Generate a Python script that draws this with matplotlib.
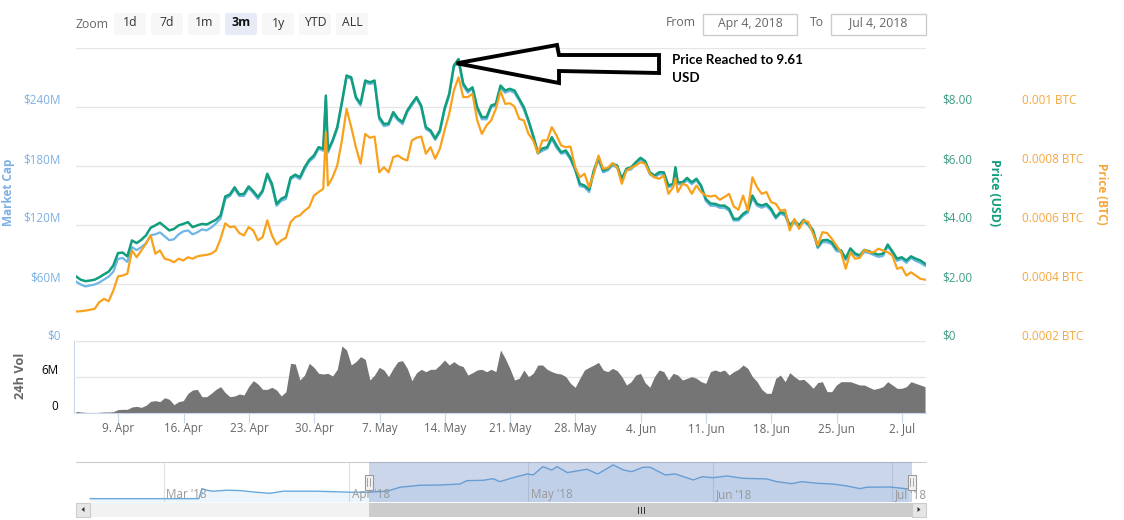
import numpy as np
import pandas as pd
import matplotlib
matplotlib.use("Agg")
import matplotlib.pyplot as plt
import matplotlib.dates as mdates
from matplotlib.patches import Polygon, Rectangle, FancyBboxPatch
from matplotlib.transforms import ScaledTranslation

# ---------- data ----------
start_time = "2018-04-04 11:17"
spike_times = ["2018-05-01 06:00", "2018-06-07 17:15"]

price_usd = [
    2.24,2.13,2.08,2.10,2.13,2.21,2.31,2.40,2.61,3.03,
    3.05,2.92,3.46,3.37,3.48,3.63,3.89,3.97,4.06,3.93,
    3.80,3.85,3.97,4.02,4.08,3.91,3.97,4.02,4.00,4.08,
    4.16,4.31,4.95,5.02,5.26,5.02,5.04,5.29,5.13,4.93,
    5.15,5.72,5.38,4.70,4.87,4.95,5.59,5.69,5.60,5.94,
    6.19,6.34,6.62,6.57,8.37,6.51,6.85,7.30,8.15,9.05,8.99,
    8.32,8.10,8.88,8.82,8.88,7.64,7.41,7.42,7.81,7.59,
    7.47,7.86,8.10,8.32,8.03,7.30,7.19,6.92,7.19,7.93,
    8.43,9.39,9.61,8.78,8.54,8.65,7.98,7.64,7.64,8.03,
    8.09,8.71,8.54,8.60,8.54,8.26,7.98,7.53,7.02,6.45,
    6.58,6.62,6.96,6.68,6.45,6.51,6.26,5.89,5.38,5.32,
    5.18,5.83,6.26,5.83,5.89,6.06,6.00,5.55,5.89,5.94,
    6.11,6.26,6.15,5.77,5.66,5.77,5.77,5.32,5.38,5.94,5.43,
    5.43,5.58,5.43,5.55,5.32,4.87,4.71,4.70,4.64,4.64,
    4.53,4.19,4.19,4.36,4.47,4.98,4.70,4.64,4.70,4.53,
    4.25,4.42,4.38,3.97,4.14,3.97,4.16,4.02,3.80,3.25,
    3.46,3.48,3.40,3.18,3.12,2.85,3.19,3.02,2.95,3.14,
    3.09,3.03,2.98,3.01,3.32,3.09,2.84,2.89,2.78,2.92,
    2.84,2.78,2.67,
]
price_btc_micro = [
    305,306,308,311,314,337,348,340,376,424,
    427,433,512,489,512,535,563,501,512,484,
    480,472,484,478,489,484,492,495,497,501,
    512,552,604,591,593,571,563,591,580,546,
    557,614,563,532,546,555,608,625,631,647,
    659,698,710,721,913,732,760,800,885,992,930,
    862,806,907,894,898,777,794,777,828,834,
    823,817,885,894,898,840,862,823,857,919,
    975,1054,1099,1032,1032,1043,953,907,936,953,
    992,1052,1009,1011,1000,958,953,907,885,842,
    885,885,930,902,868,862,864,794,760,772,
    726,772,834,789,792,808,794,738,783,792,
    800,811,806,772,760,755,766,704,726,756,710,
    738,732,704,732,710,698,695,698,684,693,
    704,661,650,698,647,760,726,704,710,676,
    670,647,650,580,619,585,614,608,568,529,
    574,571,552,529,506,450,506,484,487,514,
    506,506,518,512,506,495,450,455,427,438,
    427,416,413,
]
market_cap_m = [
    62,59,57,58,59,61,64,67,72,85,
    86,82,97,94,97,101,109,110,112,108,
    104,105,110,113,114,110,112,115,114,117,
    121,126,146,149,156,149,149,157,152,146,
    153,170,159,139,144,146,166,169,166,176,
    184,188,197,195,249,193,204,217,243,270,268,
    248,241,264,263,264,227,220,221,232,226,
    222,234,241,248,239,217,214,206,214,236,
    251,280,286,261,254,258,237,227,227,239,
    241,259,254,256,254,246,237,224,209,192,
    195,197,207,198,192,193,186,175,159,158,
    153,173,186,173,175,180,178,165,175,176,
    181,186,183,171,168,171,171,158,159,176,161,
    161,165,161,165,158,144,139,139,137,137,
    134,124,124,129,132,147,139,137,139,134,
    126,131,129,117,122,117,123,119,112,96,
    102,102,100,93,92,84,94,89,87,92,
    91,89,87,88,98,91,83,85,81,86,
    83,81,78,
]
volume_m = [
    .28,.17,.11,.06,.06,.11,.17,.17,.22,.56,
    .61,.61,1.0,1.11,.94,1.28,1.94,2.06,1.89,2.56,
    2.28,1.39,1.89,2.06,3.28,3.83,3.94,2.72,2.72,3.28,
    3.94,4.39,3.39,2.72,2.83,3.17,3.0,4.39,5.39,4.83,
    3.94,3.94,4.28,3.83,2.83,3.56,8.28,8.17,5.5,6.33,
    8.28,7.61,6.61,6.5,6.61,6.17,7.28,11.17,10.5,8.0,
    8.56,9.39,8.94,5.5,6.33,7.61,7.17,6.06,7.44,8.56,
    8.72,7.44,5.39,6.72,7.28,6.89,7.28,7.28,8.0,8.83,
    8.0,8.56,8.0,7.72,6.33,6.72,7.17,7.28,6.89,7.28,
    6.89,10.5,9.11,7.44,5.5,5.78,7.17,6.06,6.61,8.0,
    8.0,7.28,6.89,6.61,6.5,6.06,4.94,4.28,5.78,7.17,
    7.61,8.0,8.44,7.17,6.89,7.44,7.06,6.06,4.67,5.22,
    6.33,6.61,5.06,4.28,6.06,7.17,6.89,5.5,6.61,6.33,
    5.5,5.78,6.06,5.78,5.22,4.94,6.89,7.17,6.89,7.17,
    6.33,6.89,7.28,8.0,7.44,6.06,5.22,3.94,3.28,3.28,
    5.78,6.33,5.22,6.72,6.06,5.5,5.61,4.94,4.11,5.06,
    5.22,3.56,3.56,4.67,5.22,5.22,5.22,4.94,4.67,4.67,
    4.28,3.94,4.11,4.39,5.22,4.67,4.11,4.11,4.39,5.22,
    4.94,4.67,4.39,
]
# navigator: overview of market cap, days counted from 1 Mar 2018
nav_days = [-12.3,5.9,6.4,7.2,8.3,10.6,12.8,15.0,17.8,20.0,22.8,25.6,28.4,31.2,34.1,37.4,
            39.6,42.9,46.3,49.6,50.8,53.5,55.2,56.3,58.5,60.9,61.9,63.5,65.0,65.9,67.6,
            69.2,70.9,72.7,75.3,77,78.4,80.3,81.5,84,85.7,88.7,90.2,92,94.4,97,101,102.7,
            105.2,106.9,109.4,112.1,114.5,116.6,117.8,121.6,124.7]
nav_cap_m = [0,0,81,68,60,68,65,54,43,60,60,60,56,52,52,60,
             92,108,110,118,145,148,161,137,169,199,191,258,231,258,210,
             223,237,199,272,231,218,253,253,191,199,151,177,169,183,164,159,137,
             121,137,124,118,102,81,92,94,78]

week_ticks = ["2018-04-09","2018-04-16","2018-04-23","2018-04-30","2018-05-07","2018-05-14",
              "2018-05-21","2018-05-28","2018-06-04","2018-06-11","2018-06-18","2018-06-25","2018-07-02"]
week_labels = ["9. Apr","16. Apr","23. Apr","30. Apr","7. May","14. May","21. May",
               "28. May","4. Jun","11. Jun","18. Jun","25. Jun","2. Jul"]
cap_ticks = [0,60,120,180,240,300]
cap_labels = ["$0","$60M","$120M","$180M","$240M",""]
usd_ticks = [0,2,4,6,8,10]
usd_labels = ["$0","$2.00","$4.00","$6.00","$8.00",""]
btc_ticks = [0.0002,0.0004,0.0006,0.0008,0.001,0.0012]
btc_labels = ["0.0002 BTC","0.0004 BTC","0.0006 BTC","0.0008 BTC","0.001 BTC",""]
vol_ticks = [0,6,12]
vol_labels = ["0","6M",""]
month_ticks = ["2018-03-01","2018-04-01","2018-05-01","2018-06-01","2018-07-01"]
month_labels = ["Mar '18","Apr '18","May '18","Jun '18","Jul '18"]
select_from, select_to = "2018-04-04 09:00", "2018-07-04 10:00"
zoom_buttons = ["1d","7d","1m","3m","1y","YTD","ALL"]

# ---------- style ----------
W, H = 1124, 520
GREEN, ORANGE, BLUE = "#109e7d", "#f9a11b", "#6db6e6"
BLUE_TXT, ORANGE_TXT, GREEN_TXT = "#7cb0e4", "#f7a63c", "#3d9c84"
GRAY = "#666666"
FONT = "Open Sans"
plt.rcParams["font.family"] = [FONT, "DejaVu Sans"]
plt.rcParams["font.size"] = 8.4

fig = plt.figure(figsize=(W/100, H/100), dpi=100, facecolor="white")

def box(x0, y_top, x1, y_bot):
    return [x0/W, 1-y_bot/H, (x1-x0)/W, (y_bot-y_top)/H]

def lift(labels, px):
    for lab in labels:
        lab.set_transform(lab.get_transform() + ScaledTranslation(0, px/100, fig.dpi_scale_trans))

times = pd.date_range(start_time, periods=183, freq="12h")
main_times = times.append(pd.DatetimeIndex(spike_times)).sort_values()
x_main = mdates.date2num(main_times)
x_vol = mdates.date2num(times)
x0 = mdates.date2num(pd.Timestamp(start_time))
xlim = (x0, x0 + 850/9.33)

# ---------- main panel ----------
ax_cap = fig.add_axes(box(76, 47.5, 926, 342.5))
ax_usd = ax_cap.twinx()
ax_btc = ax_cap.twinx()
ax_cap.plot(x_main, market_cap_m, color=BLUE, lw=1.6, solid_joinstyle="round")
ax_usd.plot(x_main, price_usd, color=GREEN, lw=1.8, solid_joinstyle="round")
ax_btc.plot(x_main, np.array(price_btc_micro)*1e-6, color=ORANGE, lw=1.6, solid_joinstyle="round")

ax_cap.set_xlim(xlim)
ax_cap.set_ylim(0, 300)
ax_usd.set_ylim(0, 10)
ax_btc.set_ylim(0.0002, 0.0012)
ax_cap.set_xticks([])

ax_cap.set_yticks(cap_ticks, cap_labels, color=BLUE_TXT)
ax_usd.set_yticks(usd_ticks, usd_labels, color=GREEN_TXT)
ax_btc.set_yticks(btc_ticks, btc_labels, color=ORANGE_TXT)
ax_cap.grid(axis="y", color="#e6e6e6", lw=1)
ax_cap.set_axisbelow(True)
ax_cap.tick_params(axis="y", length=0, pad=11)
ax_usd.tick_params(axis="y", length=0, pad=11.5)
ax_btc.tick_params(axis="y", length=0, pad=69)
lift([t.label1 for t in ax_cap.yaxis.get_major_ticks()], 7.5)
lift([t.label2 for t in ax_usd.yaxis.get_major_ticks()], 7.5)
lift([t.label2 for t in ax_btc.yaxis.get_major_ticks()], 7.5)
for a in (ax_cap, ax_usd, ax_btc):
    a.patch.set_visible(False)
    for s in a.spines.values():
        s.set_visible(False)

ax_cap.set_ylabel("Market Cap", color=BLUE_TXT, fontweight="bold", fontsize=8.5, va="center")
ax_cap.yaxis.set_label_coords((9-76)/850, (342.5-192)/295)
ax_usd.set_ylabel("Price (USD)", color=GREEN, fontweight="bold", fontsize=8.8, rotation=270, va="center")
ax_usd.yaxis.set_label_coords((995-76)/850, (342.5-193)/295)
ax_btc.set_ylabel("Price (BTC)", color=ORANGE_TXT, fontweight="bold", fontsize=8.5, rotation=270, va="center")
ax_btc.yaxis.set_label_coords((1101-76)/850, (342.5-194)/295)

# ---------- volume panel ----------
ax_vol = fig.add_axes(box(76, 341, 926, 413))
ax_vol.fill_between(x_vol, volume_m, color="#757575", lw=0)
ax_vol.set_xlim(xlim)
ax_vol.set_ylim(0, 12)
ax_vol.set_yticks(vol_ticks, vol_labels, color=GRAY)
ax_vol.set_xticks(mdates.date2num(pd.to_datetime(week_ticks)), week_labels, color=GRAY)
for k in ("top", "right"):
    ax_vol.spines[k].set_visible(False)
ax_vol.spines["bottom"].set_color("#ccd6eb")
ax_vol.spines["left"].set_color("#ccd6eb")
ax_vol.spines["left"].set_position(("outward", 1.8))
ax_vol.tick_params(axis="y", length=0, pad=11)
ax_vol.tick_params(axis="x", length=7.5, width=0.8, color="#ccd6eb", pad=-1.1)
ax_vol.grid(axis="y", color="#e6e6e6", lw=1)
ax_vol.set_axisbelow(True)
lift([t.label1 for t in ax_vol.yaxis.get_major_ticks()], 7.5)
ax_vol.set_ylabel("24h Vol", color=GRAY, fontweight="bold", fontsize=9.2, va="center")
ax_vol.yaxis.set_label_coords((21-76)/850, (413-376)/72)
ax_vol.patch.set_visible(False)

# ---------- navigator ----------
ax_nav = fig.add_axes(box(76, 462.3, 926, 502))
march_first = mdates.date2num(pd.Timestamp("2018-03-01"))
x_nav = march_first + np.array(nav_days)
ax_nav.fill_between(x_nav, nav_cap_m, -27, color=BLUE, alpha=0.13, lw=0)
ax_nav.plot(x_nav, nav_cap_m, color="#68a9dc", lw=1)
nav_left = march_first - (163.7-76)/5.97
ax_nav.set_xlim(nav_left, nav_left + 850/5.97)
ax_nav.set_ylim(-27, 293)
ax_nav.axvspan(mdates.date2num(pd.Timestamp(select_from)), mdates.date2num(pd.Timestamp(select_to)),
               color="#6685c2", alpha=0.33, lw=0, zorder=3)
ax_nav.set_yticks([])
month_x = mdates.date2num(pd.to_datetime(month_ticks))
ax_nav.set_xticks(month_x, [])
ax_nav.tick_params(axis="x", length=0)
ax_nav.grid(axis="x", color="#e0e0e0", lw=0.8)
ax_nav.set_axisbelow(True)
for mx, ml in zip(month_x, month_labels):
    ax_nav.annotate(ml, (mx, 0), xycoords=ax_nav.get_xaxis_transform(), xytext=(2, 0.4), textcoords="offset points",
                    color="#999999", fontsize=8.4, va="bottom", ha="left", annotation_clip=False, zorder=4)
for s in ax_nav.spines.values():
    s.set_visible(False)
ax_nav.spines["top"].set_visible(True)
ax_nav.spines["top"].set_color("#cccccc")

# ---------- page furniture, positioned in pixels ----------
ui = fig.add_axes([0, 0, 1, 1], zorder=10)
ui.set_xlim(0, W)
ui.set_ylim(H, 0)
ui.axis("off")
ui.patch.set_visible(False)

ui.text(76, 24, "Zoom", color=GRAY, fontsize=8.8, va="center", ha="left")
for i, lab in enumerate(zoom_buttons):
    bx = 114 + 37*i
    active = lab == "3m"
    ui.add_patch(FancyBboxPatch((bx+1, 14), 30, 20, boxstyle="round,pad=1,rounding_size=2",
                                fc="#e6ebf5" if active else "#f7f7f7", ec="none"))
    ui.text(bx+16, 23, lab, color="#111111" if active else "#333333", fontsize=8.8,
            fontweight="bold" if active else "normal", ha="center", va="center")

ui.text(666, 23, "From", color=GRAY, fontsize=8.8, va="center")
ui.text(810, 23, "To", color=GRAY, fontsize=8.8, va="center")
for bx0, bx1, lab in [(703, 797, "Apr 4, 2018"), (831, 926, "Jul 4, 2018")]:
    ui.add_patch(Rectangle((bx0, 13.5), bx1-bx0, 21, fc="white", ec="#cccccc", lw=1))
    ui.text((bx0+bx1)/2, 23, lab, color=GRAY, fontsize=8.8, ha="center", va="center")

ui.add_patch(Polygon([(456.7, 63.3), (557, 45), (559, 55), (659, 55), (659, 73), (559, 71), (559, 83)],
                     closed=True, fc="white", ec="black", lw=2.8, joinstyle="miter"))
ui.text(672, 60.5, "Price Reached to 9.61", family="Lato", fontweight="bold", fontsize=9.6, color="black", va="center")
ui.text(672, 78.5, "USD", family="Lato", fontweight="bold", fontsize=9.6, color="black", va="center")

# scrollbar
ui.add_patch(Rectangle((76, 502.5), 850, 14, fc="#f2f2f2", ec="none"))
ui.add_patch(Rectangle((369, 502.5), 543, 14, fc="#cccccc", ec="none"))
ui.add_patch(Rectangle((76, 502.5), 14, 14, fc="#e6e6e6", ec="#cccccc", lw=0.8))
ui.add_patch(Rectangle((912, 502.5), 14, 14, fc="#e6e6e6", ec="#cccccc", lw=0.8))
ui.add_patch(Polygon([(84.5, 507), (84.5, 512), (81.5, 509.5)], fc="#333333", ec="none"))
ui.add_patch(Polygon([(917.5, 507), (917.5, 512), (920.5, 509.5)], fc="#333333", ec="none"))
for gx in (637.5, 640.5, 643.5):
    ui.plot([gx, gx], [506.5, 512.5], color="#333333", lw=0.7)
# navigator handles
for hx in (368.5, 911.5):
    ui.add_patch(Rectangle((hx-4, 474.5), 8, 15, fc="#f2f2f2", ec="#999999", lw=0.8))
    for dx in (-1.2, 1.2):
        ui.plot([hx+dx, hx+dx], [478, 486], color="#999999", lw=0.6)

fig.savefig("out.png", dpi=100, facecolor="white")
